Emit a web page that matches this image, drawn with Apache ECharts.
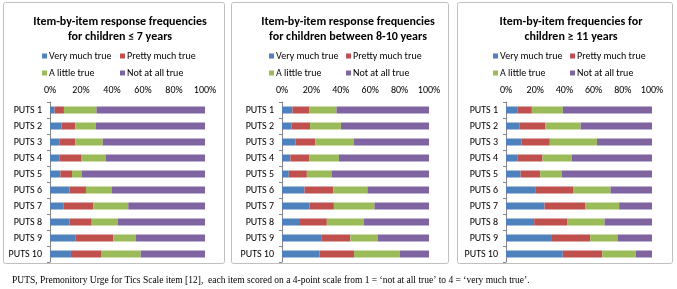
<!DOCTYPE html>
<html><head><meta charset="utf-8">
<script src="https://cdn.jsdelivr.net/npm/echarts@6/dist/echarts.min.js"></script>
<style>html,body{margin:0;padding:0;background:#fff}#c{width:677px;height:289px}</style>
</head><body><div id="c"></div>
<script>
const categories = ['PUTS 1','PUTS 2','PUTS 3','PUTS 4','PUTS 5','PUTS 6','PUTS 7','PUTS 8','PUTS 9','PUTS 10'];
const seriesNames = ['Very much true','Pretty much true','A little true','Not at all true'];
const xTicks = [0,20,40,60,80,100];
const titles = ['Item-by-item response frequencies\nfor children \u2264 7 years',
                'Item-by-item response frequencies\nfor children between 8-10 years',
                'Item-by-item frequencies for\nchildren \u2265 11 years'];
// panel 1 (<= 7 years)
const p1Very   = [3, 7.5, 6, 6, 6.7, 12.5, 8.6, 12.5, 16.3, 13.5];
const p1Pretty = [6, 8.8, 10.3, 14.4, 7.5, 10.7, 19.4, 14.4, 24.6, 19.4];
const p1Little = [21, 13.2, 17.7, 15.7, 6.2, 16.6, 22.5, 16.8, 14.4, 25.6];
const p1Not    = [70, 70.5, 66, 63.9, 79.6, 60.2, 49.5, 56.3, 44.7, 41.5];
// panel 2 (8-10 years)
const p2Very   = [7.1, 6.4, 9.1, 5.7, 4.6, 15.3, 18.7, 11.6, 27.1, 25.5];
const p2Pretty = [11.6, 12.7, 13.5, 13, 12.3, 19.6, 16.6, 18.9, 19.4, 23.5];
const p2Little = [18.4, 21, 26.4, 20, 16.8, 23.2, 27.6, 25.3, 18.6, 31.2];
const p2Not    = [62.9, 59.9, 51, 61.3, 66.3, 41.9, 37.1, 44.2, 34.9, 19.8];
// panel 3 (>= 11 years)
const p3Very   = [7.7, 9.1, 10.5, 7.7, 10, 20, 26.4, 19.3, 30.9, 38.9];
const p3Pretty = [10, 17.7, 19.5, 17.3, 13.4, 25.9, 28.1, 22.5, 26.8, 27];
const p3Little = [21.2, 24.3, 32.3, 20.2, 14.8, 25.7, 23, 25.7, 18.7, 23];
const p3Not    = [61.1, 48.9, 37.7, 54.8, 61.8, 28.4, 22.5, 32.5, 23.6, 11.1];
const footnote = 'PUTS, Premonitory Urge for Tics Scale item [12],  each item scored on a 4-point scale from 1 = \u2018not at all true\u2019 to 4 = \u2018very much true\u2019.';

const panels = [[p1Very,p1Pretty,p1Little,p1Not],[p2Very,p2Pretty,p2Little,p2Not],[p3Very,p3Pretty,p3Little,p3Not]];
const colors = ['#4F81BD','#C0504D','#9BBB59','#8064A2'];
const FONT = 'Carlito, Lato, sans-serif';
const boxes = [{x:3,w:221},{x:231,w:217},{x:457,w:215}];
const grids = [{left:50,width:155},{left:282,width:147},{left:506,width:146}];
const titleX = [115,343,566];
const legendCol1 = [42,269,493];
const legendCol2 = [120,346,570];

const option = {animation:false, textStyle:{fontFamily:FONT},
  title: titles.map((t,i)=>({text:t,left:titleX[i],top:9,textAlign:'center',
    textStyle:{fontFamily:FONT,fontSize:12,fontWeight:'bold',color:'#000',lineHeight:15}})),
  legend: [],
  grid: grids.map(g=>({left:g.left,width:g.width,top:102,bottom:27})),
  xAxis: grids.map((g,i)=>({gridIndex:i,type:'value',position:'top',min:xTicks[0],max:xTicks[xTicks.length-1],interval:xTicks[1]-xTicks[0],
    axisLabel:{formatter:'{value}%',fontSize:10,color:'#000',fontFamily:FONT,margin:7},
    axisLine:{show:false},axisTick:{show:false},splitLine:{show:false}})),
  yAxis: grids.map((g,i)=>({gridIndex:i,type:'category',data:categories,inverse:true,
    axisLabel:{fontSize:10,color:'#000',fontFamily:FONT,margin:8},
    axisLine:{show:true,lineStyle:{color:'#868686'}},axisTick:{show:true,length:3,lineStyle:{color:'#868686'}}})),
  series: [],
  graphic: [
    ...boxes.map(b=>({type:'rect',shape:{x:b.x+0.5,y:2.5,width:b.w,height:261,r:2},
      style:{fill:'none',stroke:'#BFBFBF',lineWidth:1},z:-1})),
    {type:'text',left:12,top:275,style:{text:footnote,font:'9.5px "Liberation Serif"',fill:'#000'}}
  ]
};
panels.forEach((arrs,pi)=>{
  arrs.forEach((d,si)=>{
    option.series.push({type:'bar',name:seriesNames[si],stack:'s'+pi,xAxisIndex:pi,yAxisIndex:pi,
      data:d,barWidth:7,itemStyle:{color:colors[si]}});
  });
  [[0,legendCol1[pi],51],[1,legendCol2[pi],51],[2,legendCol1[pi],68],[3,legendCol2[pi],68]].forEach(([si,x,y])=>{
    option.legend.push({data:[seriesNames[si]],left:x,top:y,icon:'rect',itemWidth:5,itemHeight:5,itemGap:4,padding:0,
      textStyle:{fontSize:10,color:'#000',fontFamily:FONT,padding:[0,0,0,-3]}});
  });
});
echarts.init(document.getElementById('c')).setOption(option);
</script></body></html>
